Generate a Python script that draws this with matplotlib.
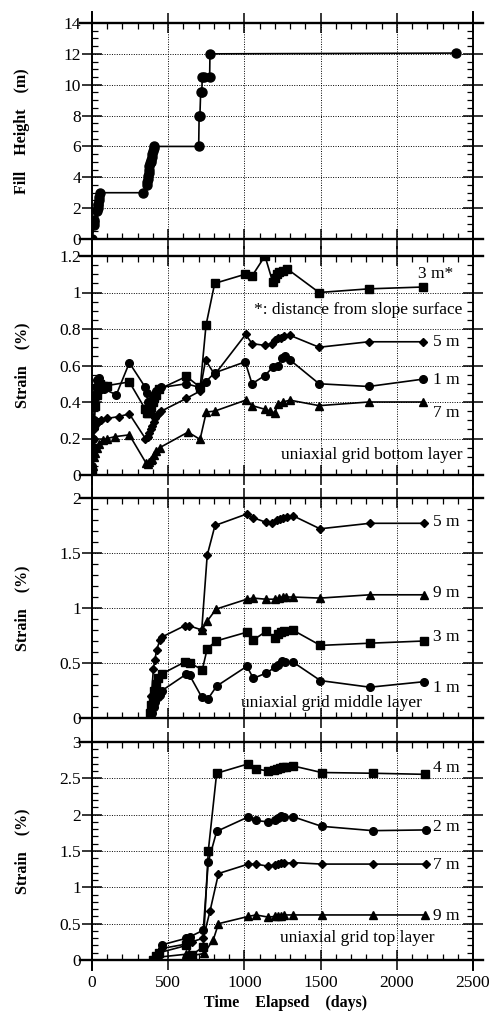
import numpy as np
import matplotlib
matplotlib.use('Agg')
import matplotlib.pyplot as plt
from matplotlib.lines import Line2D
from matplotlib.ticker import MultipleLocator, FuncFormatter

plt.rcParams['font.family'] = ['Liberation Serif', 'DejaVu Serif']

# --- datos: altura de relleno ---
fill_days = [3, 12, 14, 16, 36, 38, 40, 42, 44, 48, 50, 337, 358, 362, 365, 368, 371,
             374, 377, 380, 384, 388, 392, 396, 400, 405, 410, 700, 703, 708, 713, 720,
             724, 733, 772, 774, 2390]
fill_h = [0, 0.9, 1.2, 1.1, 1.8, 2.0, 2.2, 2.3, 2.5, 2.7, 3.0, 3.0, 3.5, 3.7, 3.9, 4.1, 4.3,
          4.5, 4.7, 4.9, 5.0, 5.1, 5.3, 5.5, 5.7, 5.9, 6.0, 6.0, 8.0, 8.0, 9.5, 9.5,
          10.5, 10.5, 10.5, 12.0, 12.05]

# --- capa inferior ---
bot_3m_d = [2, 8, 15, 22, 30, 40, 55, 75, 100, 245, 350, 360, 370, 380, 390, 400, 410, 420,
            440, 620, 710, 748, 805, 1005, 1050, 1135, 1185, 1200, 1215, 1230, 1250, 1280,
            1490, 1815, 2170]
bot_3m_v = [0.02, 0.15, 0.28, 0.38, 0.44, 0.47, 0.50, 0.49, 0.49, 0.51, 0.36, 0.34, 0.34,
            0.35, 0.37, 0.40, 0.42, 0.44, 0.47, 0.54, 0.48, 0.82, 1.05, 1.10, 1.09, 1.20,
            1.06, 1.08, 1.10, 1.11, 1.12, 1.13, 1.00, 1.02, 1.03]
bot_1m_d = [0, 5, 10, 18, 25, 35, 45, 60, 80, 160, 245, 350, 360, 365, 372, 380, 390, 400,
            410, 420, 455, 620, 705, 745, 805, 1005, 1050, 1135, 1185, 1220, 1245, 1265,
            1300, 1490, 1815, 2170]
bot_1m_v = [0.05, 0.2, 0.3, 0.42, 0.48, 0.52, 0.53, 0.50, 0.47, 0.44, 0.615, 0.48, 0.45,
            0.40, 0.37, 0.36, 0.38, 0.42, 0.44, 0.46, 0.48, 0.50, 0.48, 0.51, 0.56, 0.62,
            0.50, 0.545, 0.59, 0.60, 0.64, 0.65, 0.63, 0.50, 0.485, 0.525]
bot_5m_d = [0, 5, 10, 15, 25, 40, 60, 100, 175, 245, 350, 365, 375, 385, 395, 405, 415, 425,
            440, 455, 620, 709, 745, 805, 1008, 1050, 1135, 1180, 1200, 1220, 1240, 1260,
            1300, 1490, 1815, 2170]
bot_5m_v = [0.1, 0.15, 0.2, 0.25, 0.28, 0.29, 0.30, 0.31, 0.32, 0.335, 0.20, 0.21, 0.23,
            0.25, 0.27, 0.29, 0.31, 0.33, 0.34, 0.35, 0.42, 0.46, 0.63, 0.55, 0.77, 0.72,
            0.71, 0.72, 0.74, 0.75, 0.75, 0.76, 0.765, 0.70, 0.73, 0.73]
bot_7m_d = [0, 5, 10, 20, 30, 45, 70, 100, 150, 245, 355, 365, 375, 385, 395, 405, 420, 445,
            630, 709, 750, 805, 1008, 1052, 1135, 1170, 1200, 1220, 1250, 1300, 1490, 1815,
            2170]
bot_7m_v = [0.0, 0.05, 0.1, 0.12, 0.15, 0.17, 0.19, 0.20, 0.21, 0.22, 0.065, 0.06, 0.07,
            0.08, 0.09, 0.11, 0.13, 0.15, 0.235, 0.195, 0.345, 0.35, 0.41, 0.38, 0.36, 0.35,
            0.34, 0.39, 0.40, 0.41, 0.38, 0.40, 0.40]

# --- capa media ---
mid_5m_d = [380, 390, 403, 413, 424, 446, 457, 610, 635, 720, 756, 807, 1016, 1059, 1140,
            1180, 1215, 1235, 1255, 1277, 1317, 1496, 1823, 2178]
mid_5m_v = [0.05, 0.2, 0.45, 0.53, 0.62, 0.71, 0.735, 0.84, 0.84, 0.80, 1.48, 1.75, 1.855,
            1.82, 1.78, 1.77, 1.80, 1.81, 1.82, 1.83, 1.84, 1.72, 1.77, 1.77]
mid_9m_d = [720, 756, 814, 1016, 1059, 1140, 1200, 1225, 1250, 1275, 1317, 1496, 1823, 2178]
mid_9m_v = [0.80, 0.88, 0.99, 1.08, 1.09, 1.08, 1.08, 1.09, 1.10, 1.10, 1.10, 1.09, 1.12,
            1.12]
mid_3m_d = [380, 390, 400, 410, 420, 435, 457, 610, 640, 724, 756, 814, 1016, 1059, 1145,
            1200, 1220, 1240, 1260, 1317, 1499, 1823, 2178]
mid_3m_v = [0.05, 0.12, 0.18, 0.25, 0.31, 0.36, 0.40, 0.51, 0.50, 0.44, 0.63, 0.70, 0.78,
            0.71, 0.79, 0.73, 0.76, 0.78, 0.79, 0.80, 0.66, 0.68, 0.70]
mid_1m_d = [385, 395, 405, 415, 430, 446, 460, 620, 640, 720, 759, 818, 1016, 1059, 1145,
            1200, 1220, 1245, 1265, 1317, 1499, 1823, 2178]
mid_1m_v = [0.0, 0.05, 0.1, 0.15, 0.19, 0.21, 0.25, 0.40, 0.39, 0.19, 0.17, 0.29, 0.47,
            0.36, 0.41, 0.46, 0.48, 0.52, 0.51, 0.51, 0.34, 0.28, 0.33]

# --- capa superior ---
top_4m_d = [400, 420, 440, 620, 654, 730, 763, 818, 1026, 1076, 1157, 1195, 1215, 1235,
            1250, 1270, 1321, 1506, 1842, 2185]
top_4m_v = [0.0, 0.05, 0.10, 0.20, 0.07, 0.18, 1.50, 2.57, 2.70, 2.63, 2.60, 2.61, 2.63,
            2.64, 2.65, 2.66, 2.67, 2.58, 2.57, 2.555]
top_2m_d = [405, 425, 462, 620, 643, 730, 763, 818, 1026, 1076, 1157, 1200, 1220, 1240,
            1260, 1321, 1506, 1842, 2192]
top_2m_v = [0.0, 0.05, 0.21, 0.30, 0.32, 0.41, 1.35, 1.77, 1.97, 1.92, 1.90, 1.93, 1.96,
            1.98, 1.97, 1.97, 1.84, 1.78, 1.79]
top_7m_d = [410, 430, 462, 620, 654, 730, 774, 830, 1026, 1076, 1157, 1200, 1220, 1240,
            1260, 1321, 1506, 1842, 2192]
top_7m_v = [0.0, 0.05, 0.16, 0.22, 0.25, 0.30, 0.67, 1.19, 1.32, 1.32, 1.29, 1.31, 1.32,
            1.33, 1.33, 1.34, 1.32, 1.32, 1.32]
top_9m_d = [415, 440, 620, 654, 735, 796, 830, 1026, 1076, 1157, 1200, 1220, 1240, 1260,
            1321, 1506, 1842, 2185]
top_9m_v = [0.0, 0.04, 0.08, 0.06, 0.09, 0.28, 0.50, 0.60, 0.62, 0.59, 0.60, 0.61, 0.61,
            0.62, 0.62, 0.62, 0.62, 0.62]

# --- geometria en pixeles ---
W, H = 504, 1015
LEFT, RIGHT = 92, 473
paneles = [(23, 239), (256, 475), (498, 718), (742, 960)]
ylims = [(0, 14), (0, 1.2), (0, 2), (0, 3)]
ymajor = [2, 0.2, 0.5, 0.5]
yminor = [0.5, 0.05, 0.1, 0.1]

fig = plt.figure(figsize=(W / 100, H / 100), dpi=100)
axes = []
for (top, bot), yl, ma, mi in zip(paneles, ylims, ymajor, yminor):
    ax = fig.add_axes([LEFT / W, 1 - bot / H, (RIGHT - LEFT) / W, (bot - top) / H])
    ax.set_xlim(0, 2500)
    ax.set_ylim(*yl)
    ax.xaxis.set_major_locator(MultipleLocator(500))
    ax.xaxis.set_minor_locator(MultipleLocator(100))
    ax.yaxis.set_major_locator(MultipleLocator(ma))
    ax.yaxis.set_minor_locator(MultipleLocator(mi))
    ax.yaxis.set_major_formatter(FuncFormatter(lambda v, p: '%g' % round(v, 3)))
    for s in ax.spines.values():
        s.set_visible(False)
    ax.tick_params(axis='y', which='major', direction='inout', length=14, width=1.1,
                   left=True, right=True, labelsize=12.5, pad=1)
    ax.tick_params(axis='y', which='minor', direction='in', length=4, width=0.9,
                   left=True, right=True)
    ax.tick_params(axis='x', which='major', direction='inout', length=14, width=1.1,
                   top=True, bottom=True, labelsize=12.5)
    ax.tick_params(axis='x', which='minor', direction='in', length=4, width=0.9,
                   top=True, bottom=True)
    ax.grid(True, which='major', color='k', linestyle=(0, (1, 1.5)), linewidth=0.7)
    for yy in yl:
        ax.plot([-0.0315, 1.026], [(yy - yl[0]) / (yl[1] - yl[0])] * 2, color='k', lw=1.7,
                transform=ax.transAxes, clip_on=False, zorder=5)
    axes.append(ax)

for ax in axes[:-1]:
    ax.tick_params(axis='x', labelbottom=False)

# marcos verticales continuos
for xp in (LEFT, RIGHT):
    fig.add_artist(Line2D([xp / W, xp / W], [1 - 12 / H, 1 - 970 / H], color='k', lw=1.4,
                          transform=fig.transFigure))

kw = dict(color='k', lw=1.2, mfc='k', mec='k')

ax1, ax2, ax3, ax4 = axes
ax1.plot(fill_days, fill_h, marker='o', ms=6.5, **kw)

ax2.plot(bot_3m_d, bot_3m_v, marker='s', ms=5.5, **kw)
ax2.plot(bot_5m_d, bot_5m_v, marker='D', ms=4.5, **kw)
ax2.plot(bot_1m_d, bot_1m_v, marker='o', ms=5.5, **kw)
ax2.plot(bot_7m_d, bot_7m_v, marker='^', ms=6, **kw)

ax3.plot(mid_5m_d, mid_5m_v, marker='D', ms=4.5, **kw)
ax3.plot(mid_9m_d, mid_9m_v, marker='^', ms=6, **kw)
ax3.plot(mid_3m_d, mid_3m_v, marker='s', ms=5.5, **kw)
ax3.plot(mid_1m_d, mid_1m_v, marker='o', ms=5.5, **kw)

ax4.plot(top_4m_d, top_4m_v, marker='s', ms=5.5, **kw)
ax4.plot(top_2m_d, top_2m_v, marker='o', ms=5.5, **kw)
ax4.plot(top_7m_d, top_7m_v, marker='D', ms=4.5, **kw)
ax4.plot(top_9m_d, top_9m_v, marker='^', ms=6, **kw)

# textos
fs = 12.5
ax2.text(2140, 1.10, '3 m*', fontsize=fs, va='center')
ax2.text(2428, 0.905, '*: distance from slope surface', fontsize=fs, va='center', ha='right')
ax2.text(2235, 0.73, '5 m', fontsize=fs, va='center')
ax2.text(2235, 0.52, '1 m', fontsize=fs, va='center')
ax2.text(2235, 0.34, '7 m', fontsize=fs, va='center')
ax2.text(2428, 0.11, 'uniaxial grid bottom layer', fontsize=fs, va='center', ha='right')

ax3.text(2238, 1.785, '5 m', fontsize=fs, va='center')
ax3.text(2238, 1.14, '9 m', fontsize=fs, va='center')
ax3.text(2238, 0.74, '3 m', fontsize=fs, va='center')
ax3.text(2238, 0.27, '1 m', fontsize=fs, va='center')
ax3.text(2163, 0.134, 'uniaxial grid middle layer', fontsize=fs, va='center', ha='right')

ax4.text(2238, 2.64, '4 m', fontsize=fs, va='center')
ax4.text(2238, 1.83, '2 m', fontsize=fs, va='center')
ax4.text(2238, 1.31, '7 m', fontsize=fs, va='center')
ax4.text(2238, 0.605, '9 m', fontsize=fs, va='center')
ax4.text(2250, 0.30, 'uniaxial grid top layer', fontsize=fs, va='center', ha='right')

lab = dict(fontsize=11.5, fontweight='bold')
ax1.set_ylabel('Fill    Height    (m)', **lab)
for ax in axes[1:]:
    ax.set_ylabel('Strain    (%)', **lab)
for ax in axes:
    ax.yaxis.set_label_coords((30 - LEFT) / (RIGHT - LEFT), 0.5)

fig.text(286 / W, 1 - 1003 / H, 'Time    Elapsed    (days)', ha='center', va='center', **lab)

fig.savefig('out.png', dpi=100)
